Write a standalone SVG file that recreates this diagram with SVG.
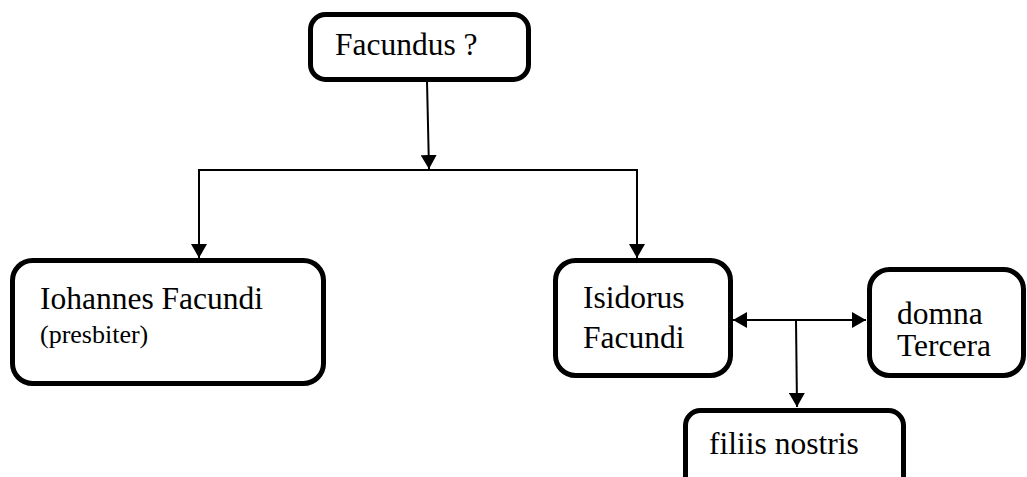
<svg xmlns="http://www.w3.org/2000/svg" width="1027" height="477" viewBox="0 0 1027 477">
  <style>
    .box { fill: #ffffff; stroke: #000000; stroke-width: 5; }
    .t { font-family: "Liberation Serif", "Times New Roman", serif; font-size: 31.5px; fill: #000000; }
    .s { font-family: "Liberation Serif", "Times New Roman", serif; font-size: 26px; fill: #000000; }
    .c { fill: none; stroke: #000000; stroke-width: 2; }
  </style>
  <defs>
    <marker id="ah" viewBox="0 0 14 16" refX="14" refY="8" markerWidth="14" markerHeight="16" markerUnits="userSpaceOnUse" orient="auto-start-reverse">
      <path d="M0,0 L14,8 L0,16 Z" fill="#000000"/>
    </marker>
  </defs>
  <rect width="1027" height="477" fill="#ffffff"/>

  <g id="connectors">
    <path class="c" d="M427,81 L429,169" marker-end="url(#ah)"/>
    <path class="c" d="M199,258 L199,170 L637,170 L637,258" />
    <path class="c" d="M199,200 L199,258" marker-end="url(#ah)"/>
    <path class="c" d="M637,200 L637,258" marker-end="url(#ah)"/>
    <path class="c" d="M733,320 L866,320" marker-start="url(#ah)" marker-end="url(#ah)"/>
    <path class="c" d="M796,320 L797,407" marker-end="url(#ah)"/>
  </g>

  <g id="node-facundus">
    <rect class="box" x="310.5" y="14.5" width="218" height="65" rx="15" ry="15"/>
    <text class="t" x="335" y="55">Facundus ?</text>
  </g>

  <g id="node-iohannes">
    <rect class="box" x="12.5" y="260.5" width="311" height="123" rx="20" ry="20"/>
    <text class="t" x="40" y="309">Iohannes Facundi</text>
    <text class="s" x="40" y="343">(presbiter)</text>
  </g>

  <g id="node-isidorus">
    <rect class="box" x="555.5" y="260.5" width="175" height="115" rx="20" ry="20"/>
    <text class="t" x="583" y="308">Isidorus</text>
    <text class="t" x="583" y="348">Facundi</text>
  </g>

  <g id="node-domna">
    <rect class="box" x="869.5" y="269.5" width="154" height="106" rx="20" ry="20"/>
    <text class="t" x="897" y="324">domna</text>
    <text class="t" x="897" y="356">Tercera</text>
  </g>

  <g id="node-filiis">
    <rect class="box" x="685.5" y="410.5" width="218" height="90" rx="15" ry="15"/>
    <text class="t" x="709" y="454">filiis nostris</text>
  </g>
</svg>
